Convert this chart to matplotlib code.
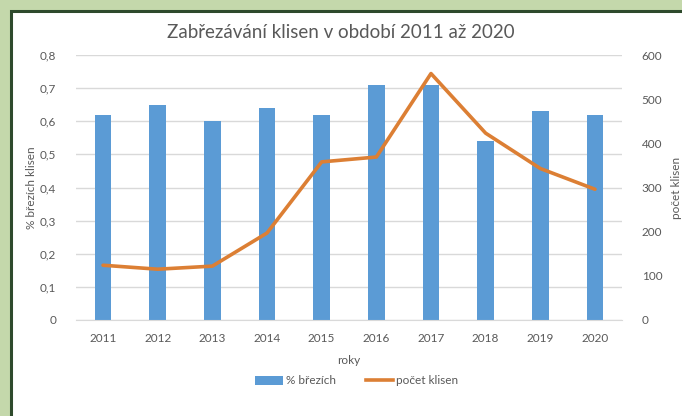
import matplotlib
matplotlib.use("Agg")
import matplotlib.pyplot as plt
from matplotlib.patches import Rectangle
from matplotlib.lines import Line2D
from matplotlib.patches import Patch
from matplotlib.ticker import FuncFormatter

years = ["2011", "2012", "2013", "2014", "2015", "2016", "2017", "2018", "2019", "2020"]
pct_brezich = [0.62, 0.65, 0.60, 0.64, 0.62, 0.71, 0.71, 0.54, 0.63, 0.62]
pocet_klisen = [124, 115, 122, 197, 358, 369, 558, 423, 343, 296]

plt.rcParams['font.family'] = ['Lato', 'DejaVu Sans']

W, H = 682, 416
fig = plt.figure(figsize=(W / 100, H / 100), dpi=100)
fig.patch.set_facecolor('#c4d8ab')

panel = Rectangle((10.5 / W, -0.05), 1.0, (H - 10.5) / H + 0.05, transform=fig.transFigure,
                  facecolor='white', edgecolor='#2e4a2c', linewidth=2.2, zorder=-5)
fig.patches.append(panel)

ax = fig.add_axes([75.7 / W, 1 - 320 / H, (622.3 - 75.7) / W, (320 - 55) / H])
ax.set_facecolor('none')
x = list(range(len(years)))
bar_color = '#5b9bd5'
line_color = '#dc7f34'
tick_color = '#595959'

ax.bar(x, pct_brezich, width=0.30, color=bar_color, zorder=2)
ax.set_xlim(-0.5, len(years) - 0.5)
ax.set_ylim(0, 0.8)
ax.set_yticks([0, 0.1, 0.2, 0.3, 0.4, 0.5, 0.6, 0.7, 0.8])
ax.yaxis.set_major_formatter(FuncFormatter(lambda v, p: '0' if v == 0 else f"{v:.1f}".replace('.', ',')))
ax.set_xticks(x)
ax.set_xticklabels(years)
ax.grid(axis='y', color='#d9d9d9', linewidth=1.0, zorder=0)
ax.set_axisbelow(True)
for s in ax.spines.values():
    s.set_visible(False)
ax.spines['bottom'].set_visible(True)
ax.spines['bottom'].set_color('#d9d9d9')
ax.tick_params(axis='both', length=0, colors=tick_color, labelsize=8.5)
ax.tick_params(axis='y', pad=14)
ax.tick_params(axis='x', pad=9)
ax.set_ylabel('% březích klisen', color=tick_color, fontsize=8.5, labelpad=2)
ax.set_xlabel('roky', color=tick_color, fontsize=8.5, labelpad=8)

ax2 = ax.twinx()
ax2.plot(x, pocet_klisen, color=line_color, linewidth=2.6, zorder=3, solid_capstyle='round')
ax2.set_ylim(0, 600)
ax2.set_yticks([0, 100, 200, 300, 400, 500, 600])
for s in ax2.spines.values():
    s.set_visible(False)
ax2.tick_params(axis='y', length=0, colors=tick_color, labelsize=8.5, pad=14)
ax2.set_ylabel('počet klisen', color=tick_color, fontsize=8.5, labelpad=6)

fig.text(0.5, 1 - 33 / H, 'Zabřezávání klisen v období 2011 až 2020', ha='center', va='center',
         fontsize=13.5, color='#595959')

handles = [Patch(facecolor=bar_color, edgecolor='none', label='% březích'),
           Line2D([0], [0], color=line_color, linewidth=2.6, label='počet klisen')]
leg = fig.legend(handles=handles, loc='center', bbox_to_anchor=(357 / W, 1 - 381 / H), ncol=2,
                 frameon=False, fontsize=8.5, handlelength=2.3, handleheight=0.7,
                 handletextpad=0.25, columnspacing=2.6, labelcolor=tick_color)

fig.savefig('out.png', dpi=100, facecolor=fig.get_facecolor())
